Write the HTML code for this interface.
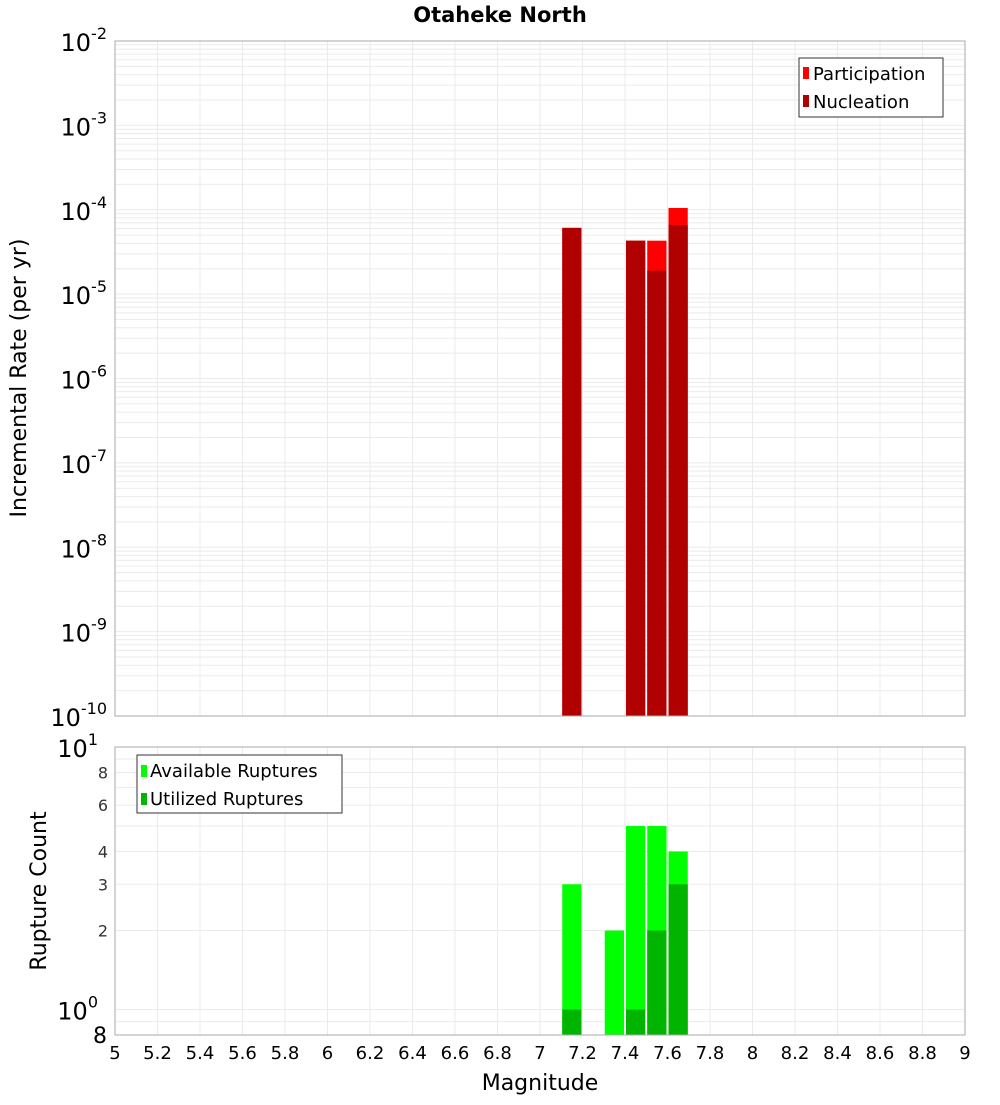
<!DOCTYPE html>
<html><head><meta charset="utf-8"><style>
body{margin:0;background:#fff;font-family:"Liberation Sans","DejaVu Sans",sans-serif}
svg text{font-family:"DejaVu Sans","Liberation Sans",sans-serif}
</style></head><body>
<svg id="c" width="1000" height="1100" xmlns="http://www.w3.org/2000/svg">
<text x="500" y="22" text-anchor="middle" font-size="21" font-weight="bold">Otaheke North</text>
</svg>
<script>
const mags=[7.15,7.45,7.55,7.65];
const participation=[6.1e-5,4.3e-5,4.3e-5,1.05e-4];
const nucleation=[6.1e-5,4.3e-5,1.9e-5,6.6e-5];
const countMags=[7.15,7.35,7.45,7.55,7.65];
const available=[3,2,5,5,4];
const utilized=[1,0,1,2,3];
const xTicks=[5,5.2,5.4,5.6,5.8,6,6.2,6.4,6.6,6.8,7,7.2,7.4,7.6,7.8,8,8.2,8.4,8.6,8.8,9];
const topExps=[-2,-3,-4,-5,-6,-7,-8,-9,-10];
const botTicks=[2,3,4,6,8];

const svg=document.getElementById('c');const NS='http://www.w3.org/2000/svg';
function el(t,a,p){const e=document.createElementNS(NS,t);for(const k in a)e.setAttribute(k,a[k]);(p||svg).appendChild(e);return e;}
const X0=115,X1=965;
const xs=m=>X0+(m-5)/4*(X1-X0);
const T0=41,T1=716;
const yt=v=>T0+(-2-Math.log10(v))/8*(T1-T0);
const B0=747,B1=1035;
const yb=v=>B0+(1-Math.log10(v))/(1-Math.log10(0.8))*(B1-B0);

// top grid
const gt=el('g',{});

for(let e=-10;e<-2;e++)for(let k=1;k<10;k++){const y=yt(k*Math.pow(10,e));el('line',{x1:X0,x2:X1,y1:y,y2:y,stroke:'#ebebeb','stroke-width':1},gt);}
xTicks.forEach(m=>el('line',{x1:xs(m),x2:xs(m),y1:T0,y2:T1,stroke:'#ebebeb'},gt));
// bottom grid
const gb=el('g',{});

[0.9,1,2,3,4,5,6,7,8,9].forEach(v=>{const y=yb(v);el('line',{x1:X0,x2:X1,y1:y,y2:y,stroke:'#ebebeb'},gb);});
xTicks.forEach(m=>el('line',{x1:xs(m),x2:xs(m),y1:B0,y2:B1,stroke:'#ebebeb'},gb));

const bw=(xs(5.1)-xs(5))-2;
// top bars
mags.forEach((m,i)=>{
 const x=xs(m)-bw/2;
 let r=el('rect',{x:x,y:yt(participation[i]),width:bw,height:T1-yt(participation[i]),fill:'#ff0000'});
 
 r=el('rect',{x:x,y:yt(nucleation[i]),width:bw,height:T1-yt(nucleation[i]),fill:'#b00000'});
 
});
countMags.forEach((m,i)=>{
 const x=xs(m)-bw/2;
 let r=el('rect',{x:x,y:yb(available[i]),width:bw,height:B1-yb(available[i]),fill:'#00ff00'});
 
 if(utilized[i]>0){r=el('rect',{x:x,y:yb(utilized[i]),width:bw,height:B1-yb(utilized[i]),fill:'#00b400'});
 }
});
// frames
el('rect',{x:X0,y:T0,width:X1-X0,height:T1-T0,fill:'none',stroke:'#aaa'});
el('rect',{x:X0,y:B0,width:X1-X0,height:B1-B0,fill:'none',stroke:'#aaa'});
// top y labels
topExps.forEach(e=>{const y=yt(Math.pow(10,e));
 const t=el('text',{x:X0-8,y:y+10,'text-anchor':'end','font-size':24});
 
 t.textContent='10';const s=el('tspan',{dy:-12,'font-size':16},t);s.textContent=String(e);
});
// bottom y labels
[[10,'10','1'],[1,'10','0']].forEach(([v,b,p])=>{const y=yb(v);
 const t=el('text',{x:X0-8-(p.length*9),y:y+10,'text-anchor':'end','font-size':24});
 
 t.textContent=b;const s=el('tspan',{dy:-12,'font-size':16},t);s.textContent=p;});
botTicks.forEach(v=>{const t=el('text',{x:X0-7,y:yb(v)+6,'text-anchor':'end','font-size':16,fill:'#333'});
 t.textContent=v;});
{const t=el('text',{x:X0-8,y:B1+8,'text-anchor':'end','font-size':22});t.textContent='8';}
// x labels
xTicks.forEach(m=>{const t=el('text',{x:xs(m),y:1059,'text-anchor':'middle','font-size':18});
 t.textContent=String(+m.toFixed(1));});
</script>
<svg style="position:absolute;left:0;top:0" width="1000" height="1100">
<text x="540" y="1090" text-anchor="middle" font-size="22">Magnitude</text>
<text transform="translate(26,378) rotate(-90)" text-anchor="middle" font-size="22">Incremental Rate (per yr)</text>
<text transform="translate(46,891) rotate(-90)" text-anchor="middle" font-size="22">Rupture Count</text>
<g>
<rect x="799" y="58" width="144" height="59" fill="#fff" stroke="#333"/>
<rect x="803" y="67" width="6" height="12" fill="#ff0000"/>
<text x="813" y="80" font-size="18">Participation</text>
<rect x="803" y="95" width="6" height="12" fill="#b00000"/>
<text x="813" y="108" font-size="18">Nucleation</text>
</g>
<g>
<rect x="137" y="755" width="205" height="58" fill="#fff" stroke="#333"/>
<rect x="141" y="765" width="6" height="12" fill="#00ff00"/>
<text x="150" y="777" font-size="18">Available Ruptures</text>
<rect x="141" y="793" width="6" height="12" fill="#00b400"/>
<text x="150" y="805" font-size="18">Utilized Ruptures</text>
</g>
</svg>
</body></html>
